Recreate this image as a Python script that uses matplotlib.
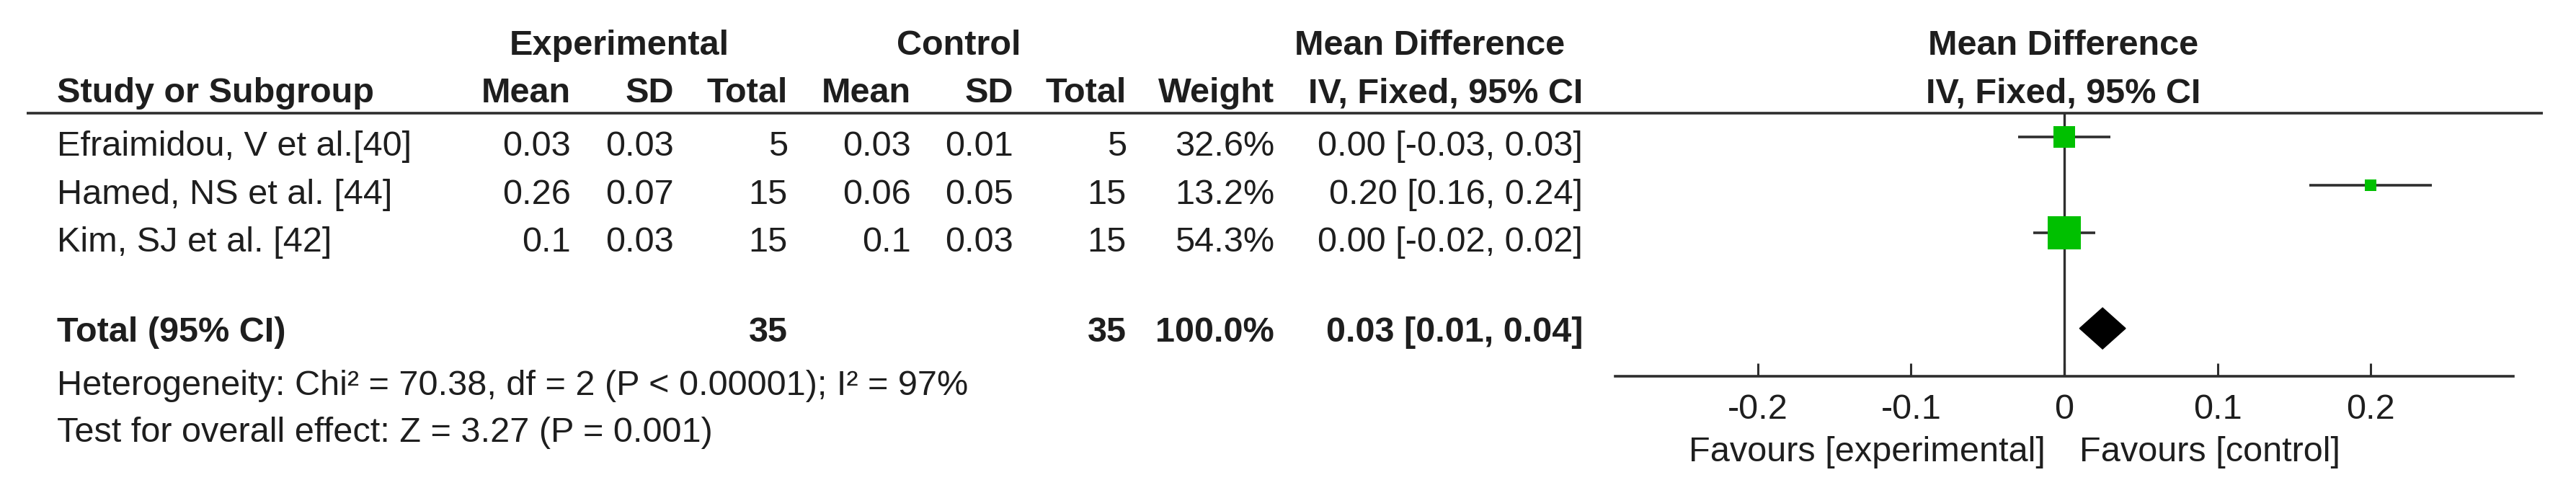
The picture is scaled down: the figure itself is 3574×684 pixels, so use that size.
import numpy as np
import matplotlib
matplotlib.use('Agg')
import matplotlib.pyplot as plt
from matplotlib.patches import Polygon

# study data
studies = ['Efraimidou, V et al.[40]', 'Hamed, NS et al. [44]', 'Kim, SJ et al. [42]']
exp_mean = ['0.03', '0.26', '0.1']
exp_sd = ['0.03', '0.07', '0.03']
exp_n = [5, 15, 15]
ctl_mean = ['0.03', '0.06', '0.1']
ctl_sd = ['0.01', '0.05', '0.03']
ctl_n = [5, 15, 15]
weight = [32.6, 13.2, 54.3]
md = [0.00, 0.20, 0.00]
ci_lo = [-0.03, 0.16, -0.02]
ci_hi = [0.03, 0.24, 0.02]

# pooled result
total_exp = 35
total_ctl = 35
total_weight = 100.0
total_md = 0.025
total_lo = 0.01
total_hi = 0.04
total_label = '0.03 [0.01, 0.04]'
het_text = 'Heterogeneity: Chi\u00b2 = 70.38, df = 2 (P < 0.00001); I\u00b2 = 97%'
effect_text = 'Test for overall effect: Z = 3.27 (P = 0.001)'

xticks = [-0.2, -0.1, 0, 0.1, 0.2]
xticklabels = ['-0.2', '-0.1', '0', '0.1', '0.2']

W, H = 3574, 684
INK = '#1e1e1e'
LINE = '#2e2e2e'
GREEN = '#00c000'
FS = 35
plt.rcParams['font.family'] = ['Liberation Sans', 'DejaVu Sans']

fig = plt.figure(figsize=(W / 100, H / 100), dpi=100)

# table axes in pixel coordinates
ax = fig.add_axes([0, 0, 1, 1])
ax.set_xlim(0, W)
ax.set_ylim(H, 0)
ax.axis('off')


def txt(x, y, s, ha='left', bold=False):
    ax.text(x, y, s, ha=ha, va='baseline', fontsize=FS, color=INK,
            fontweight='bold' if bold else 'normal')


# headers
txt(859, 76, 'Experimental', ha='center', bold=True)
txt(1330, 76, 'Control', ha='center', bold=True)
txt(1984, 76, 'Mean Difference', ha='center', bold=True)
txt(2863, 76, 'Mean Difference', ha='center', bold=True)
y_h2 = 142
txt(79, y_h2, 'Study or Subgroup', bold=True)
for x, s in [(792, 'Mean'), (935, 'SD'), (1093, 'Total'), (1264, 'Mean'),
             (1406, 'SD'), (1563, 'Total'), (1768, 'Weight'),
             (2196, 'IV, Fixed, 95% CI')]:
    txt(x, y_h2, s, ha='right', bold=True)
txt(2863, y_h2, 'IV, Fixed, 95% CI', ha='center', bold=True)
ax.plot([37, 3528], [157, 157], color=LINE, lw=2.6, solid_capstyle='butt')

# rows
row_base = [216, 283, 349]
for i, name in enumerate(studies):
    y = row_base[i]
    txt(79, y, name)
    txt(792, y, exp_mean[i], ha='right')
    txt(935, y, exp_sd[i], ha='right')
    txt(1093, y, str(exp_n[i]), ha='right')
    txt(1264, y, ctl_mean[i], ha='right')
    txt(1406, y, ctl_sd[i], ha='right')
    txt(1563, y, str(ctl_n[i]), ha='right')
    txt(1768, y, '%.1f%%' % weight[i], ha='right')
    txt(2196, y, '%.2f [%.2f, %.2f]' % (md[i], ci_lo[i], ci_hi[i]), ha='right')

y_tot = 474
txt(79, y_tot, 'Total (95% CI)', bold=True)
txt(1093, y_tot, str(total_exp), ha='right', bold=True)
txt(1563, y_tot, str(total_ctl), ha='right', bold=True)
txt(1768, y_tot, '%.1f%%' % total_weight, ha='right', bold=True)
txt(2196, y_tot, total_label, ha='right', bold=True)
txt(79, 548, het_text)
txt(79, 613, effect_text)

# forest plot axes
fx = fig.add_axes([2241 / W, 1 - 522 / H, (3487 - 2241) / W, (522 - 157) / H])
fx.patch.set_alpha(0)
fx.set_xlim(-0.293, 0.293)
fx.set_ylim(5.0, -0.5)
for s in ['top', 'left', 'right']:
    fx.spines[s].set_visible(False)
fx.spines['bottom'].set_linewidth(2.6)
fx.spines['bottom'].set_color(LINE)
fx.set_yticks([])
fx.set_xticks(xticks)
fx.set_xticklabels(xticklabels)
fx.tick_params(axis='x', direction='in', length=13, width=2.2, color=LINE,
               pad=17, labelsize=FS, labelcolor=INK)
fx.axvline(0, color=LINE, lw=2.4, zorder=1)

for i in range(len(studies)):
    fx.plot([ci_lo[i], ci_hi[i]], [i, i], color=LINE, lw=2.6, zorder=2,
            solid_capstyle='butt')
    side = (7 + 0.7 * weight[i]) * 0.72
    fx.plot(md[i], i, marker='s', ms=side, color=GREEN, mec=GREEN, mew=0,
            zorder=3)

yt = 4
dh = 0.43
fx.add_patch(Polygon([(total_lo, yt), (total_md, yt - dh), (total_hi, yt),
                      (total_md, yt + dh)], closed=True, color='black', zorder=3))

ax.text(2838, 640, 'Favours [experimental]', ha='right', va='baseline',
        fontsize=FS, color=INK)
ax.text(2885, 640, 'Favours [control]', ha='left', va='baseline',
        fontsize=FS, color=INK)

fig.savefig('out.png', dpi=100, facecolor='white')
